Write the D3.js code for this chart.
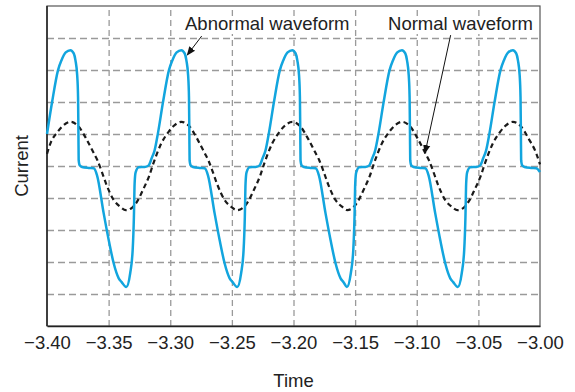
<!DOCTYPE html>
<html>
<head>
<meta charset="utf-8">
<script src="https://cdn.jsdelivr.net/npm/d3@7"></script>
<style>
  body { margin: 0; background: #fff; }
  svg { display: block; font-family: "Liberation Sans", Arial, Helvetica, sans-serif; }
</style>
</head>
<body>
<svg id="chart" width="575" height="392"></svg>
<script>
// time ticks along the bottom
const timeTicks = [-3.40, -3.35, -3.30, -3.25, -3.20, -3.15, -3.10, -3.05, -3.00];
const currentGrid = [-4, -3, -2, -1, 0, 1, 2, 3, 4];

// abnormal (distorted) waveform
const abnormalTime = [
  -3.4000, -3.3959, -3.3911, -3.3883, -3.3848, -3.3810, -3.3783, -3.3769, -3.3755, -3.3748, -3.3745, -3.3743, -3.3735, -3.3716, -3.3662, -3.3621, -3.3594, -3.3540, -3.3499, -3.3459, -3.3418, -3.3394, -3.3357,
  -3.3325, -3.3305, -3.3295, -3.3289, -3.3281, -3.3256, -3.3208, -3.3175, -3.3151, -3.3127, -3.3100, -3.3059, -3.3011, -3.2983, -3.2948, -3.2910, -3.2883, -3.2869, -3.2855, -3.2848, -3.2845, -3.2843, -3.2835, -3.2816, -3.2762, -3.2721, -3.2694, -3.2640, -3.2599, -3.2559, -3.2518, -3.2494, -3.2457,
  -3.2425, -3.2405, -3.2395, -3.2389, -3.2381, -3.2356, -3.2308, -3.2275, -3.2251, -3.2227, -3.2200, -3.2159, -3.2111, -3.2083, -3.2048, -3.2010, -3.1983, -3.1969, -3.1955, -3.1948, -3.1945, -3.1943, -3.1935, -3.1916, -3.1862, -3.1821, -3.1794, -3.1740, -3.1699, -3.1659, -3.1618, -3.1594, -3.1567,
  -3.1535, -3.1515, -3.1505, -3.1499, -3.1491, -3.1466, -3.1418, -3.1385, -3.1361, -3.1337, -3.1310, -3.1269, -3.1221, -3.1193, -3.1158, -3.1120, -3.1093, -3.1079, -3.1065, -3.1058, -3.1055, -3.1053, -3.1045, -3.1026, -3.0972, -3.0931, -3.0904, -3.0850, -3.0809, -3.0769, -3.0728, -3.0704, -3.0667,
  -3.0635, -3.0615, -3.0605, -3.0599, -3.0591, -3.0566, -3.0518, -3.0485, -3.0461, -3.0437, -3.0410, -3.0369, -3.0321, -3.0293, -3.0258, -3.0220, -3.0193, -3.0179, -3.0165, -3.0158, -3.0155, -3.0153, -3.0145, -3.0126, -3.0072, -3.0031, -3.0000
];
const abnormalCurrent = [
  1.00, 1.99, 2.99, 3.30, 3.55, 3.62, 3.52, 3.30, 2.83, 2.15, 1.02, 0.18, 0.02, -0.03, -0.06, -0.07, -0.29, -1.48, -2.32, -3.04, -3.51, -3.63, -3.78,
  -3.35, -2.63, -1.60, -0.54, -0.20, -0.04, -0.03, 0.02, 0.24, 0.49, 1.02, 1.99, 2.99, 3.30, 3.55, 3.62, 3.52, 3.30, 2.83, 2.15, 1.02, 0.18, 0.02, -0.03, -0.06, -0.07, -0.29, -1.48, -2.32, -3.04, -3.51, -3.63, -3.78,
  -3.35, -2.63, -1.60, -0.54, -0.20, -0.04, -0.03, 0.02, 0.24, 0.49, 1.02, 1.99, 2.99, 3.30, 3.55, 3.62, 3.52, 3.30, 2.83, 2.15, 1.02, 0.18, 0.02, -0.03, -0.06, -0.07, -0.29, -1.48, -2.32, -3.04, -3.51, -3.63, -3.78,
  -3.35, -2.63, -1.60, -0.54, -0.20, -0.04, -0.03, 0.02, 0.24, 0.49, 1.02, 1.99, 2.99, 3.30, 3.55, 3.62, 3.52, 3.30, 2.83, 2.15, 1.02, 0.18, 0.02, -0.03, -0.06, -0.07, -0.29, -1.48, -2.32, -3.04, -3.51, -3.63, -3.78,
  -3.35, -2.63, -1.60, -0.54, -0.20, -0.04, -0.03, 0.02, 0.24, 0.49, 1.02, 1.99, 2.99, 3.30, 3.55, 3.62, 3.52, 3.30, 2.83, 2.15, 1.02, 0.18, 0.02, -0.03, -0.06, -0.07, -0.19
];

// normal (sinusoidal) waveform
const normalTime = [
  -3.4000, -3.3972, -3.3915, -3.3875, -3.3810, -3.3745, -3.3680, -3.3623, -3.3591, -3.3558, -3.3518, -3.3461, -3.3404, -3.3360,
  -3.3308, -3.3267, -3.3218, -3.3170, -3.3137, -3.3072, -3.3015, -3.2975, -3.2910, -3.2845, -3.2780, -3.2723, -3.2691, -3.2658, -3.2618, -3.2561, -3.2504, -3.2460,
  -3.2408, -3.2367, -3.2318, -3.2270, -3.2237, -3.2172, -3.2115, -3.2075, -3.2010, -3.1945, -3.1880, -3.1823, -3.1791, -3.1758, -3.1718, -3.1661, -3.1604, -3.1565,
  -3.1518, -3.1477, -3.1428, -3.1380, -3.1347, -3.1282, -3.1225, -3.1185, -3.1120, -3.1055, -3.0990, -3.0933, -3.0901, -3.0868, -3.0828, -3.0771, -3.0714, -3.0670,
  -3.0618, -3.0577, -3.0528, -3.0480, -3.0447, -3.0382, -3.0325, -3.0285, -3.0220, -3.0155, -3.0090, -3.0033, -3.0000
];
const normalCurrent = [
  0.38, 0.71, 1.06, 1.24, 1.38, 1.24, 0.84, 0.42, 0.18, -0.15, -0.58, -1.05, -1.28, -1.38,
  -1.30, -1.10, -0.72, -0.30, 0.08, 0.71, 1.06, 1.24, 1.38, 1.24, 0.84, 0.42, 0.18, -0.15, -0.58, -1.05, -1.28, -1.38,
  -1.30, -1.10, -0.72, -0.30, 0.08, 0.71, 1.06, 1.24, 1.38, 1.24, 0.84, 0.42, 0.18, -0.15, -0.58, -1.05, -1.28, -1.38,
  -1.30, -1.10, -0.72, -0.30, 0.08, 0.71, 1.06, 1.24, 1.38, 1.24, 0.84, 0.42, 0.18, -0.15, -0.58, -1.05, -1.28, -1.38,
  -1.30, -1.10, -0.72, -0.30, 0.08, 0.71, 1.06, 1.24, 1.38, 1.24, 0.84, 0.42, 0.05
];

// annotation labels: text start (t, v), arrow start and arrow tip (t, v)
const annotations = [
  { label: 'Abnormal waveform', t: -3.2880, v: 4.25, from: [-3.2745, 4.06], to: [-3.2862, 3.47] },
  { label: 'Normal waveform', t: -3.1233, v: 4.25, from: [-3.0725, 4.09], to: [-3.0933, 0.40] }
];

const svg = d3.select('#chart');
const margin = { top: 6, right: 35, bottom: 66, left: 47 };
const W = 575, H = 392;
const innerW = W - margin.left - margin.right;
const innerH = H - margin.top - margin.bottom;

const x = d3.scaleLinear().domain([-3.40, -3.00]).range([0, innerW]);
const y = d3.scaleLinear().domain([-5, 5]).range([innerH, 0]);

const g = svg.append('g').attr('transform', `translate(${margin.left},${margin.top})`);

// dashed grid
g.append('g')
  .attr('class', 'grid-x')
  .attr('transform', `translate(0,${innerH})`)
  .call(d3.axisBottom(x).tickValues(timeTicks.slice(1, -1)).tickSize(-innerH).tickFormat(''))
  .call(a => a.select('.domain').remove())
  .selectAll('line')
  .attr('stroke', '#9a9a9a')
  .attr('stroke-width', 1.3)
  .attr('stroke-dasharray', '6,4');

g.append('g')
  .attr('class', 'grid-y')
  .call(d3.axisLeft(y).tickValues(currentGrid).tickSize(-innerW).tickFormat(''))
  .call(a => a.select('.domain').remove())
  .selectAll('line')
  .attr('stroke', '#9a9a9a')
  .attr('stroke-width', 1.3)
  .attr('stroke-dasharray', '7,4');

// frame
g.append('rect')
  .attr('width', innerW)
  .attr('height', innerH)
  .attr('fill', 'none')
  .attr('stroke', '#555')
  .attr('stroke-width', 1.2);

// bottom axis labels
g.append('g')
  .attr('transform', `translate(0,${innerH})`)
  .call(d3.axisBottom(x).tickValues(timeTicks).tickSize(0).tickPadding(10).tickFormat(d3.format('.2f')))
  .call(a => a.select('.domain').attr('stroke', '#222').attr('stroke-width', 1.5))
  .selectAll('text')
  .attr('font-size', 18.5)
  .attr('font-family', '"Liberation Sans", Arial, sans-serif')
  .attr('fill', '#222');

g.append('line')
  .attr('x1', 0).attr('x2', 0).attr('y1', 0).attr('y2', innerH)
  .attr('stroke', '#222').attr('stroke-width', 1.5);

const line = d3.line()
  .x(d => x(d[0]))
  .y(d => y(d[1]))
  .curve(d3.curveMonotoneX);

const normal = normalTime.map((t, i) => [t, normalCurrent[i]]);
const abnormal = abnormalTime.map((t, i) => [t, abnormalCurrent[i]]);

g.append('path')
  .datum(normal)
  .attr('fill', 'none')
  .attr('stroke', '#1a1a1a')
  .attr('stroke-width', 2.2)
  .attr('stroke-dasharray', '5,3.5')
  .attr('d', line);

g.append('path')
  .datum(abnormal)
  .attr('fill', 'none')
  .attr('stroke', '#12a5de')
  .attr('stroke-width', 2.5)
  .attr('stroke-linejoin', 'round')
  .attr('d', line);

// arrow head
svg.append('defs').append('marker')
  .attr('id', 'arrow')
  .attr('viewBox', '0 0 10 10')
  .attr('refX', 9).attr('refY', 5)
  .attr('markerWidth', 9).attr('markerHeight', 9)
  .attr('markerUnits', 'userSpaceOnUse')
  .attr('orient', 'auto')
  .append('path')
  .attr('d', 'M0,1 L10,5 L0,9 Z')
  .attr('fill', '#111');

for (const a of annotations) {
  const bg = g.append('rect').attr('fill', '#fff');
  const txt = g.append('text')
    .attr('x', x(a.t))
    .attr('y', y(a.v))
    .attr('font-size', 18.5)
    .attr('fill', '#222')
    .text(a.label);
  const len = txt.node().getComputedTextLength();
  bg.attr('x', x(a.t) - 2)
    .attr('y', y(a.v) - 14)
    .attr('width', len + 4)
    .attr('height', 18);
  g.append('line')
    .attr('x1', x(a.from[0])).attr('y1', y(a.from[1]))
    .attr('x2', x(a.to[0])).attr('y2', y(a.to[1]))
    .attr('stroke', '#111')
    .attr('stroke-width', 1)
    .attr('marker-end', 'url(#arrow)');
}

// axis titles
svg.append('text')
  .attr('x', margin.left + innerW / 2)
  .attr('y', 387)
  .attr('text-anchor', 'middle')
  .attr('font-size', 18.5)
  .attr('fill', '#222')
  .text('Time');

svg.append('text')
  .attr('transform', `translate(28,${margin.top + innerH / 2}) rotate(-90)`)
  .attr('text-anchor', 'middle')
  .attr('font-size', 18.5)
  .attr('fill', '#222')
  .text('Current');
</script>
</body>
</html>
